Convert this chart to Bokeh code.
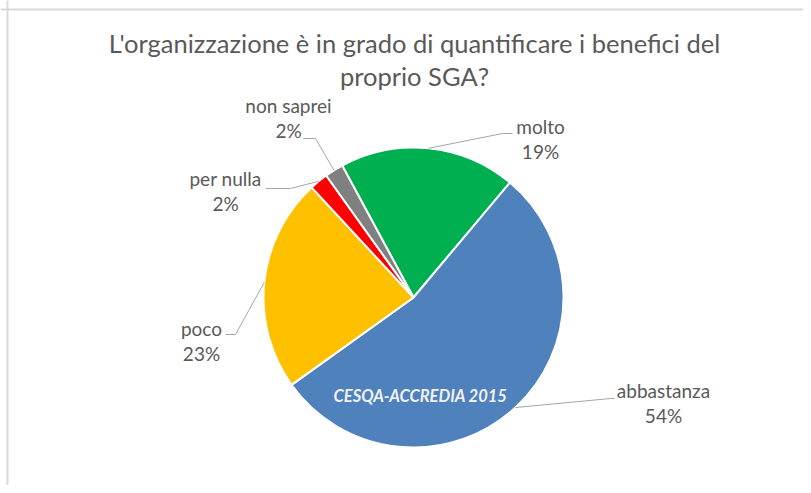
import numpy as np
from bokeh.plotting import figure
from bokeh.models import Range1d, ColumnDataSource, Span
from bokeh.core.properties import value
from bokeh.embed import file_html
from bokeh.resources import INLINE

# ---- data ----
categories = ["molto", "abbastanza", "poco", "per nulla", "non saprei"]
percentages = [19, 54, 23, 2, 2]
colors = ["#00B050", "#4F81BD", "#FFC000", "#FF0000", "#808080"]
title_lines = ["L'organizzazione è in grado di quantificare i benefici del", "proprio SGA?"]
watermark = "CESQA-ACCREDIA 2015"

# ---- layout (pixels, measured from top-left of the picture) ----
W, H = 803, 485
TXT = -3  # visual centering correction for text
def dx(sx):
    return sx
def dy(sy):
    return H - sy

center = (413, 297)
radius = 150
first_slice_deg = -28.4  # clockwise from 12 o'clock

# label anchor (center x, first line y), leader elbow, leader end
label_anchor = [(540, 129), (663, 393), (201, 331), (225, 181), (288, 108)]
leader_elbow = [(502, 133), (610, 398), (235, 334), (290, 188), (315, 138)]
leader_end = [(512, 133), (614, 398), (225, 334), (265, 188), (303, 138)]

p = figure(width=W, height=H, output_backend="svg", toolbar_location=None,
           x_range=Range1d(0, W), y_range=Range1d(0, H), min_border=0)
p.axis.visible = False
p.grid.visible = False
p.outline_line_color = None
p.background_fill_color = "white"
p.border_fill_color = "white"

# chart-area frame (left and top edges visible)
p.add_layout(Span(location=dx(7), dimension="height", line_color="#d9d9d9", line_width=2))
p.add_layout(Span(location=dy(9), dimension="width", line_color="#d9d9d9", line_width=2))

total = float(sum(percentages))
cum = np.concatenate([[0.0], np.cumsum(percentages)]) / total * 360.0 + first_slice_deg
theta_a = cum[:-1]
theta_b = cum[1:]
start = np.radians(90.0 - theta_b)
end = np.radians(90.0 - theta_a)

cx, cy = dx(center[0]), dy(center[1])
src = ColumnDataSource(dict(start=start, end=end, color=colors, cat=categories))
p.wedge(x=cx, y=cy, radius=radius, start_angle="start", end_angle="end",
        fill_color="color", line_color="white", line_width=2, source=src)

# leader lines from slice edge (mid angle) to labels
mid = np.radians(90.0 - (theta_a + theta_b) / 2.0)
ex = cx + radius * np.cos(mid)
ey = cy + radius * np.sin(mid)
xs, ys = [], []
for i in range(len(categories)):
    xs.append([ex[i], dx(leader_elbow[i][0]), dx(leader_end[i][0])])
    ys.append([ey[i], dy(leader_elbow[i][1]), dy(leader_end[i][1])])
p.multi_line(xs=xs, ys=ys, line_color="#a6a6a6", line_width=1)

lab_x = [dx(a[0]) for a in label_anchor]
lab_y1 = [dy(a[1] + TXT) for a in label_anchor]
lab_y2 = [dy(a[1] + 25 + TXT) for a in label_anchor]
p.text(x=lab_x, y=lab_y1, text=categories, text_align="center", text_baseline="middle",
       text_font=value("Lato"), text_font_size="19px", text_color="#595959")
p.text(x=lab_x, y=lab_y2, text=[f"{v}%" for v in percentages], text_align="center",
       text_baseline="middle", text_font=value("Lato"), text_font_size="19px",
       text_color="#595959")

# title
p.text(x=[dx(414), dx(414)], y=[dy(45 + TXT), dy(78 + TXT)], text=title_lines,
       text_align="center", text_baseline="middle", text_font=value("Lato"),
       text_font_size="25.5px", text_color="#595959")

# watermark
p.text(x=[dx(420)], y=[dy(398 + TXT)], text=[watermark], text_align="center",
       text_baseline="middle", text_font=value("Lato"), text_font_size="16.5px",
       text_font_style="bold italic", text_color="#f2f2f2")

open("out.html", "w").write(file_html(p, INLINE))
